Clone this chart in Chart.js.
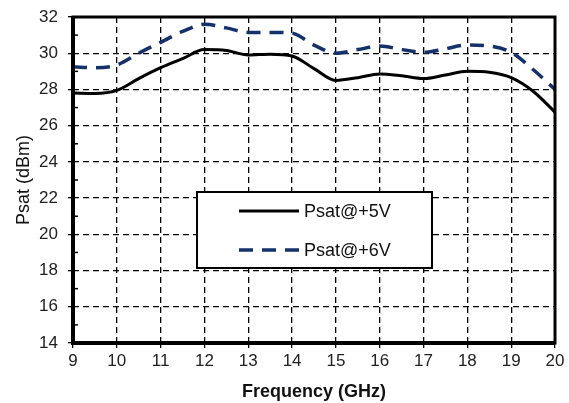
<!DOCTYPE html>
<html>
<head>
<meta charset="utf-8">
<script src="https://cdn.jsdelivr.net/npm/chart.js@4.4.0/dist/chart.umd.min.js"></script>
<style>
  html, body { margin: 0; padding: 0; background: #fff; }
  #wrap { width: 569px; height: 403px; }
</style>
</head>
<body>
<div id="wrap"><canvas id="psatChart" width="569" height="403"></canvas></div>
<script>
// frequency points (GHz)
var freqs = [9, 9.5, 10, 10.5, 11, 11.5, 12, 12.5, 13, 13.5, 14, 14.5, 15, 15.5, 16, 16.5, 17, 17.5, 18, 18.5, 19, 19.5, 20];
var psat5V = [27.8, 27.78, 27.95, 28.6, 29.2, 29.7, 30.2, 30.15, 29.9, 29.95, 29.85, 29.15, 28.5, 28.65, 28.85, 28.75, 28.6, 28.8, 29.0, 28.95, 28.65, 27.9, 26.75];
var psat6V = [29.25, 29.2, 29.35, 30.0, 30.6, 31.2, 31.6, 31.4, 31.15, 31.15, 31.1, 30.45, 30.0, 30.2, 30.4, 30.2, 30.05, 30.25, 30.45, 30.4, 30.05, 29.1, 28.0];
var seriesNames = ['Psat@+5V', 'Psat@+6V'];
var xTicks = [9, 10, 11, 12, 13, 14, 15, 16, 17, 18, 19, 20];
var yTicks = [14, 16, 18, 20, 22, 24, 26, 28, 30, 32];

var FONT = '"Liberation Sans", Arial, sans-serif';

function toPoints(ys) {
    return freqs.map(function(f, i) { return { x: f, y: ys[i] }; });
}

// thick frame, inner minor ticks and the boxed legend
var framePlugin = {
    id: 'frame',
    afterDraw: function(chart) {
        var ctx = chart.ctx, a = chart.chartArea;
        var ys = chart.scales.y;
        ctx.save();
        ctx.strokeStyle = '#000';
        ctx.lineWidth = 1.5;
        // minor ticks on left axis (odd values)
        for (var v = 15; v < 32; v += 2) {
            var py = ys.getPixelForValue(v);
            ctx.beginPath();
            ctx.moveTo(a.left, py);
            ctx.lineTo(a.left + 5, py);
            ctx.stroke();
        }
        // frame
        ctx.lineWidth = 3;
        ctx.strokeRect(a.left, a.top, a.right - a.left, a.bottom - a.top);
        ctx.lineWidth = 4;
        ctx.beginPath();
        ctx.moveTo(a.left, a.top);
        ctx.lineTo(a.left, a.bottom);
        ctx.lineTo(a.right, a.bottom);
        ctx.stroke();

        // legend box
        var bx = a.left + 124, by = a.top + 175, bw = 235, bh = 76;
        ctx.fillStyle = '#fff';
        ctx.fillRect(bx, by, bw, bh);
        ctx.lineWidth = 2;
        ctx.strokeRect(bx, by, bw, bh);
        chart.data.datasets.forEach(function(ds, i) {
            var ly = by + 19 + i * 39;
            ctx.strokeStyle = ds.borderColor;
            ctx.lineWidth = ds.borderWidth;
            ctx.setLineDash(ds.borderDash || []);
            ctx.beginPath();
            ctx.moveTo(bx + 42, ly);
            ctx.lineTo(bx + 102, ly);
            ctx.stroke();
            ctx.setLineDash([]);
            ctx.fillStyle = '#111';
            ctx.font = '18px ' + FONT;
            ctx.textBaseline = 'middle';
            ctx.fillText(ds.label, bx + 107, ly + 1);
        });
        ctx.restore();
    }
};

new Chart(document.getElementById('psatChart'), {
    type: 'line',
    data: {
        datasets: [{
            label: seriesNames[0],
            data: toPoints(psat5V),
            borderColor: '#000000',
            borderWidth: 3,
            pointRadius: 0,
            cubicInterpolationMode: 'monotone',
            fill: false
        }, {
            label: seriesNames[1],
            data: toPoints(psat6V),
            borderColor: '#14316b',
            borderWidth: 3.5,
            borderDash: [14, 9],
            pointRadius: 0,
            cubicInterpolationMode: 'monotone',
            fill: false
        }]
    },
    options: {
        responsive: false,
        animation: false,
        layout: { padding: { top: 17, right: 14, left: 0, bottom: 0 } },
        plugins: {
            legend: { display: false },
            tooltip: { enabled: false }
        },
        scales: {
            x: {
                type: 'linear',
                min: 9,
                max: 20,
                afterBuildTicks: function(s) { s.ticks = xTicks.map(function(v) { return { value: v }; }); },
                afterFit: function(s) { s.height = 60; s.paddingLeft = 0; s.paddingRight = 0; },
                grid: { color: '#000', lineWidth: 1.3, tickLength: 5, tickBorderDash: [], tickWidth: 1.3 },
                border: { display: false, dash: [6, 4] },
                ticks: { color: '#222', font: { family: FONT, size: 17 }, padding: 3, maxRotation: 0 },
                title: {
                    display: true,
                    text: 'Frequency (GHz)',
                    color: '#111',
                    font: { family: FONT, size: 18, weight: 'bold' },
                    padding: { top: 0, bottom: 0 }
                }
            },
            y: {
                min: 14,
                max: 32,
                afterBuildTicks: function(s) { s.ticks = yTicks.map(function(v) { return { value: v }; }); },
                afterFit: function(s) { s.width = 73; s.paddingTop = 0; s.paddingBottom = 0; },
                grid: { color: '#000', lineWidth: 1.3, tickLength: 5, tickBorderDash: [], tickWidth: 1.3 },
                border: { display: false, dash: [6, 4] },
                ticks: { color: '#222', font: { family: FONT, size: 17 }, padding: 10 },
                title: {
                    display: true,
                    text: 'Psat (dBm)',
                    color: '#111',
                    font: { family: FONT, size: 18 },
                    padding: { top: 13, bottom: 0 }
                }
            }
        }
    },
    plugins: [framePlugin]
});
</script>
</body>
</html>
